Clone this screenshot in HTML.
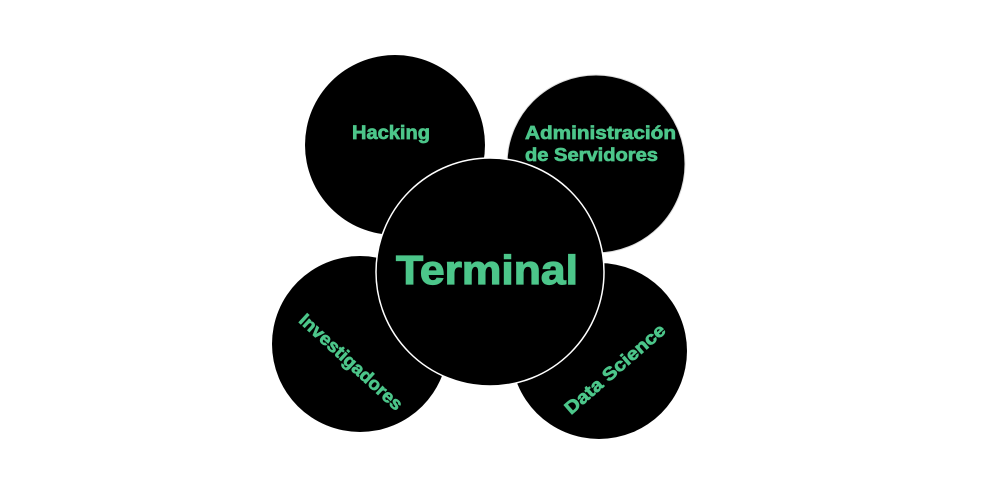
<!DOCTYPE html>
<html><head><style>html,body{margin:0;padding:0;background:#fff;width:1000px;height:500px;overflow:hidden}</style></head>
<body>
<svg width="1000" height="500" viewBox="0 0 1000 500" xmlns="http://www.w3.org/2000/svg" font-family="Liberation Sans, sans-serif" font-weight="bold" fill="#4cc68a">
<circle cx="395" cy="145" r="90" fill="#000"/>
<circle cx="596" cy="164" r="89" fill="#000" stroke="#ddd" stroke-width="1"/>
<circle cx="360" cy="344" r="88" fill="#000"/>
<circle cx="599" cy="351" r="88" fill="#000"/>
<circle cx="490" cy="272" r="114" fill="#000" stroke="#fff" stroke-width="1.5"/>
<g stroke="#4cc68a" stroke-width="0.7">
<text x="352" y="139" font-size="19" textLength="78" lengthAdjust="spacingAndGlyphs">Hacking</text>
<text x="525" y="139" font-size="18" textLength="151" lengthAdjust="spacingAndGlyphs">Administración</text>
<text x="525" y="161" font-size="18" textLength="133" lengthAdjust="spacingAndGlyphs">de Servidores</text>
<text x="396" y="284" font-size="41" stroke-width="1.2" textLength="182" lengthAdjust="spacingAndGlyphs">Terminal</text>
<text transform="translate(351,362) rotate(42.5)" x="0" y="6" text-anchor="middle" font-size="18" textLength="133" lengthAdjust="spacingAndGlyphs">Investigadores</text>
<text transform="translate(615,369) rotate(-41)" x="0" y="6" text-anchor="middle" font-size="18" textLength="127" lengthAdjust="spacingAndGlyphs">Data Science</text>
</g>
</svg>
</body></html>
